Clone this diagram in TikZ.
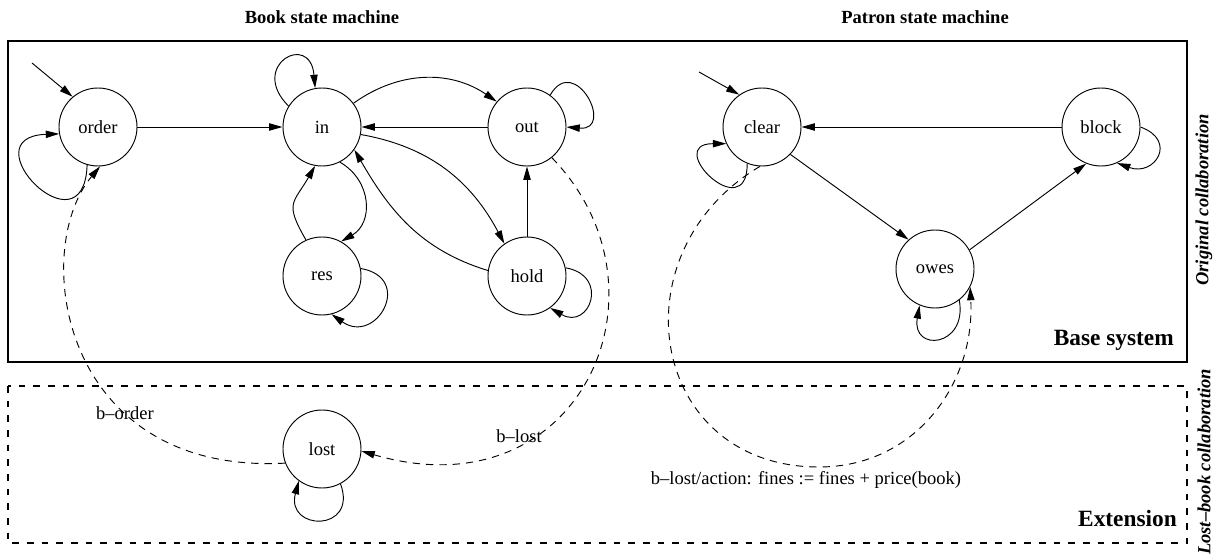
\documentclass[tikz,border=0pt]{standalone}
\usepackage{fontspec}
\setmainfont{Liberation Serif}
\usetikzlibrary{arrows.meta}

\begin{document}
\begin{tikzpicture}[x=0.75pt,y=0.75pt,
  every node/.style={font=\fontsize{13.9}{16}\selectfont,inner sep=0pt},
  state/.style={draw,circle,minimum size=58.5pt,inner sep=0pt,line width=0.7pt},
  trans/.style={line width=0.7pt,-{Triangle[length=10pt,width=5.5pt]}},
  dtrans/.style={trans,dash pattern=on 5.5pt off 4.5pt},
  title/.style={font=\fontsize{13.9}{16}\selectfont\bfseries},
  region/.style={font=\fontsize{17.5}{20}\selectfont\bfseries,anchor=east},
  side/.style={font=\fontsize{13.9}{16}\selectfont\bfseries\itshape,rotate=90},
]
\useasboundingbox (0,0) rectangle (1217,-559);

% collaboration frames
\draw[line width=0.9pt] (8,-41) rectangle (1187,-362);
\draw[line width=0.8pt,dash pattern=on 5pt off 6pt] (8,-386) rectangle (1187,-543);

% book states
\node[state] (order) at (98,-127) {order};
\node[state] (in) at (322,-127) {in};
\node[state] (out) at (527,-127) {out};
\node[state] (res) at (322,-276) {res};
\node[state] (hold) at (527,-276) {hold};
\node[state] (lost) at (322,-449) {lost};

% patron states
\node[state] (clear) at (762,-127) {clear};
\node[state] (block) at (1101,-127) {block};
\node[state] (owes) at (935,-269) {owes};

% initial arrows
\coordinate (o0) at (32,-63);
\coordinate (c0) at (699,-72);
\draw[trans] (o0) -- (order.130);
\draw[trans] (c0) -- (clear.125);

% book transitions
\draw[trans] (order) -- (in);
\draw[trans] (out) -- (in);
\draw[trans] (hold) -- (out);
\draw[trans] (in.37) to[bend left=35] (out.140);
\draw[trans] (in.-11) to[out=-10,in=118] (hold.125);
\draw[trans] (hold.172) to[out=163,in=-60] (in.-35);
\draw[trans] (in.-63) to[out=-30,in=30,looseness=1.2] (res.61);
\draw[trans] (res.114) to[out=120,in=-120,looseness=1.5] (in.-100);

% self loops
\draw[trans] (order.-106) to[out=-92,in=182,distance=69pt] (order.190);
\draw[trans] (in.148) to[out=135,in=95,distance=43pt] (in.100);
\draw[trans] (out.54) to[out=60,in=-5,distance=37pt] (out.0);
\draw[trans] (res.11) to[out=-10,in=-35,distance=41pt] (res.-76);
\draw[trans] (hold.12) to[out=-10,in=-30,distance=34pt] (hold.-54);
\draw[trans] (clear.-112) to[out=-90,in=180,distance=48pt] (clear.205);
\draw[trans] (owes.-52) to[out=-80,in=-100,distance=36pt] (owes.-113);
\draw[trans] (block.0) to[out=-20,in=-20,distance=30pt] (block.-66);
\draw[trans] (lost.-62) to[out=-70,in=-105,distance=39pt] (lost.-126);

% patron transitions
\draw[trans] (block) -- (clear);
\draw[trans] (clear.-44) -- (owes.132);
\draw[trans] (owes.29) -- (block.-112);

% lost-book collaboration
\draw[dtrans] (lost.201) .. controls (60,-475) and (30,-250) .. (order.-87);
\draw[dtrans] (out.-51) .. controls (680,-290) and (580,-515) .. (lost.-3);
\coordinate (pb) at (819,-467);
\draw[dtrans] (clear.-93) .. controls (614,-253) and (649,-467) .. (pb)
  .. controls (915,-467) and (975,-384) .. (owes.-27);

% labels
\node (lborder) at (125,-413) {b\textendash order};
\node (lblost) at (519,-436) {b\textendash lost};
\node (laction) at (806,-480) {b\textendash lost/action: fines := fines + price(book)};

\node[title] (tbook) at (322,-17) {Book state machine};
\node[title] (tpatron) at (925,-17) {Patron state machine};
\node[region] (lbase) at (1174,-340) {Base system};
\node[region] (lext) at (1177,-519) {Extension};
\node[side] (lorig) at (1204,-200) {Original collaboration};
\node[side] (llost) at (1204,-462) {Lost\textendash book collaboration};
\end{tikzpicture}
\end{document}
